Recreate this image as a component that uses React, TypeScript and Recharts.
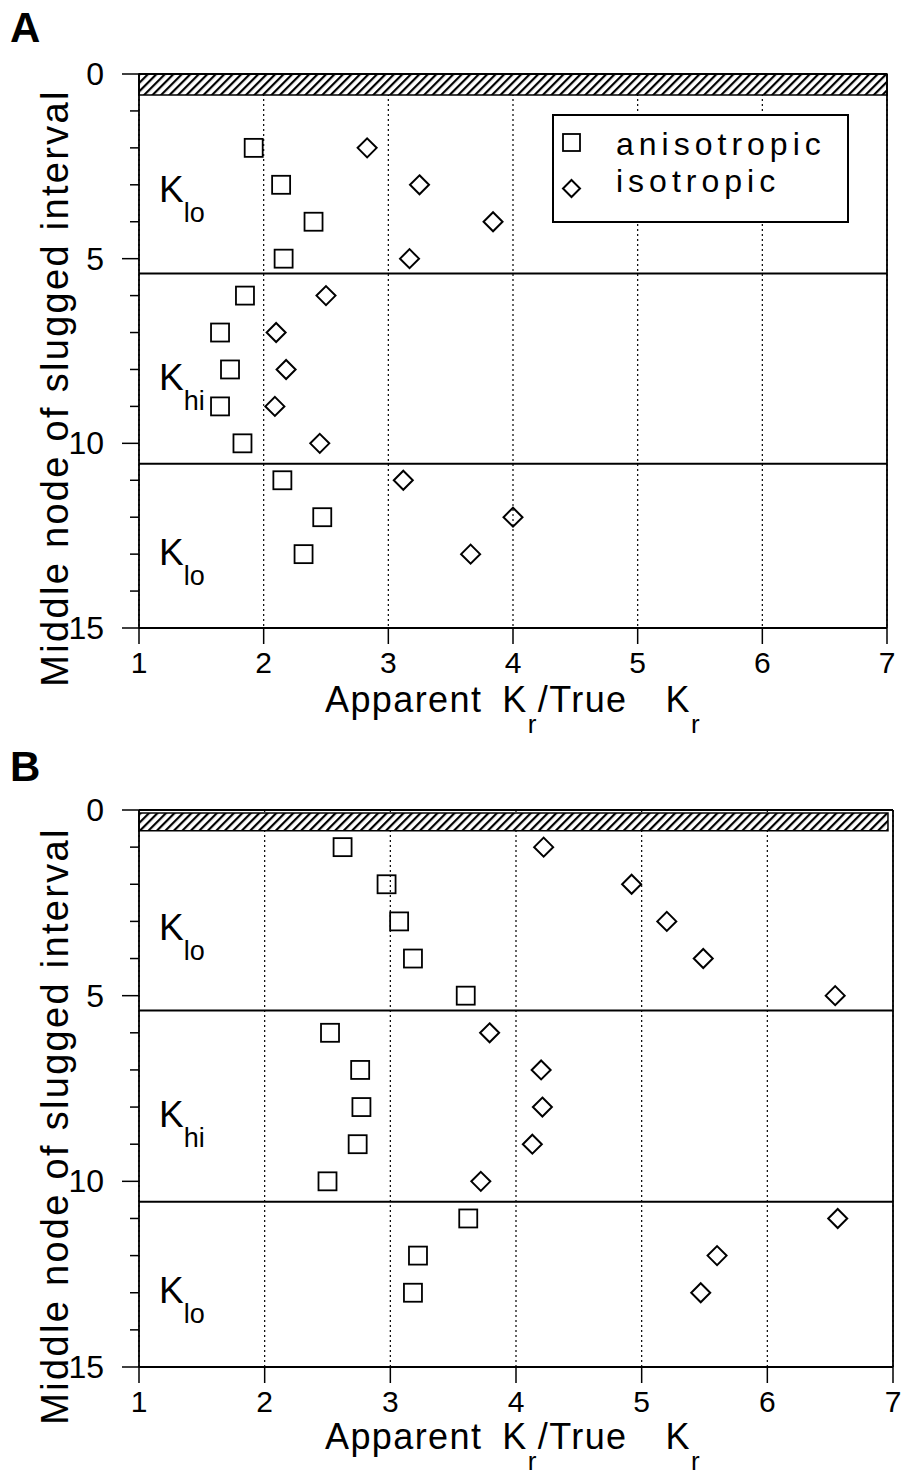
import React from "react";
import {
  ScatterChart,
  Scatter,
  XAxis,
  YAxis,
  CartesianGrid,
  ReferenceLine,
  ReferenceArea,
  Legend,
  Customized,
} from "recharts";

const FONT = '"Liberation Sans", Arial, Helvetica, sans-serif';

const xTicks = [1, 2, 3, 4, 5, 6, 7];
const yTicks = [0, 1, 2, 3, 4, 5, 6, 7, 8, 9, 10, 11, 12, 13, 14, 15];
const yLabelTicks = [0, 5, 10, 15];
const zoneBreaks = [5.4, 10.55];

// panel A
const nodesA = [2, 3, 4, 5, 6, 7, 8, 9, 10, 11, 12, 13];
const anisoA = [1.92, 2.14, 2.4, 2.16, 1.85, 1.65, 1.73, 1.65, 1.83, 2.15, 2.47, 2.32];
const isoA = [2.83, 3.25, 3.84, 3.17, 2.5, 2.1, 2.18, 2.09, 2.45, 3.12, 4.0, 3.66];

// panel B
const nodesB = [1, 2, 3, 4, 5, 6, 7, 8, 9, 10, 11, 12, 13];
const anisoB = [2.62, 2.97, 3.07, 3.18, 3.6, 2.52, 2.76, 2.77, 2.74, 2.5, 3.62, 3.22, 3.18];
const isoB = [4.22, 4.92, 5.2, 5.49, 6.54, 3.79, 4.2, 4.21, 4.13, 3.72, 6.56, 5.6, 5.47];

const toPoints = (xs: number[], nodes: number[]) => xs.map((x, i) => ({ x, y: nodes[i] }));

const Square = (props: any) => {
  const { cx, cy } = props;
  return <rect x={cx - 9} y={cy - 9} width={18} height={18} fill="none" stroke="#000" strokeWidth={1.8} />;
};

const Diamond = (props: any) => {
  const { cx, cy } = props;
  const r = 9.5;
  return (
    <path
      d={`M${cx},${cy - r}L${cx + r},${cy}L${cx},${cy + r}L${cx - r},${cy}Z`}
      fill="none"
      stroke="#000"
      strokeWidth={2}
    />
  );
};

const XTick = (props: any) => {
  const { x, y, payload } = props;
  return (
    <g>
      <line x1={x} y1={y} x2={x} y2={y + 16} stroke="#000" strokeWidth={1.5} />
      <text x={x} y={y + 45} textAnchor="middle" fontSize={30} fontFamily={FONT} fill="#000">
        {payload.value}
      </text>
    </g>
  );
};

const YTick = (props: any) => {
  const { x, y, payload } = props;
  const major = yLabelTicks.includes(payload.value);
  return (
    <g>
      <line x1={x - (major ? 17 : 9)} y1={y} x2={x} y2={y} stroke="#000" strokeWidth={1.5} />
      {major && (
        <text x={x - 35} y={y + 11} textAnchor="end" fontSize={32} fontFamily={FONT} fill="#000">
          {payload.value}
        </text>
      )}
    </g>
  );
};

const LegendBox = () => (
  <div style={{ width: 298, height: 110 }}>
    <svg width={298} height={110}>
      <rect x={1} y={1} width={295} height={107} fill="#fff" stroke="#000" strokeWidth={2} />
      <rect x={11} y={20} width={17} height={17} fill="none" stroke="#000" strokeWidth={1.8} />
      <text x={64} y={41} fontSize={32} letterSpacing={5} fontFamily={FONT} fill="#000">
        anisotropic
      </text>
      <path d="M19.5,66L28,74.5L19.5,83L11,74.5Z" fill="none" stroke="#000" strokeWidth={2} />
      <text x={64} y={78} fontSize={32} letterSpacing={5} fontFamily={FONT} fill="#000">
        isotropic
      </text>
    </svg>
  </div>
);

type PanelProps = {
  letter: string;
  top: number;
  height: number;
  margin: { top: number; right: number; left: number; bottom: number };
  xAxisHeight: number;
  aniso: { x: number; y: number }[];
  iso: { x: number; y: number }[];
  hatch: [number, number, number];
  kY: number[];
  letterY: number;
  yTitleY: number;
  xTitleY: number;
  legend?: boolean;
};

function Panel(p: PanelProps) {
  const texts = () => (
    <g fontFamily={FONT} fill="#000">
      <text x={10} y={p.letterY} fontSize={42} fontWeight="bold">
        {p.letter}
      </text>
      <text
        x={68}
        y={p.yTitleY}
        fontSize={38}
        letterSpacing={2.3}
        textAnchor="middle"
        transform={`rotate(-90, 68, ${p.yTitleY})`}
      >
        Middle node of slugged interval
      </text>
      <text x={325} y={p.xTitleY} fontSize={36} letterSpacing={1.4}>
        Apparent
        <tspan dx={20}>K</tspan>
        <tspan dy={21} fontSize={26}>r</tspan>
        <tspan dy={-21} fontSize={36}>/True</tspan>
        <tspan dx={38}>K</tspan>
        <tspan dy={21} fontSize={26}>r</tspan>
      </text>
      {["lo", "hi", "lo"].map((sub, i) => (
        <text key={i} x={159} y={p.kY[i]} fontSize={37}>
          K
          <tspan dx={0} dy={20} fontSize={27}>
            {sub}
          </tspan>
        </text>
      ))}
    </g>
  );

  return (
    <div style={{ position: "absolute", left: 0, top: p.top }}>
      <ScatterChart width={904} height={p.height} margin={p.margin}>
        <CartesianGrid horizontal={false} stroke="#000" strokeDasharray="2 3" strokeWidth={1.2} />
        <XAxis
          type="number"
          dataKey="x"
          domain={[1, 7]}
          ticks={xTicks}
          interval={0}
          height={p.xAxisHeight}
          tickSize={0}
          tickMargin={0}
          tick={<XTick />}
          axisLine={{ stroke: "#000", strokeWidth: 2.2 }}
          allowDataOverflow
        />
        <YAxis
          type="number"
          dataKey="y"
          domain={[0, 15]}
          reversed
          ticks={yTicks}
          interval={0}
          width={139}
          tickSize={0}
          tickMargin={0}
          tick={<YTick />}
          axisLine={{ stroke: "#000", strokeWidth: 1.8 }}
          allowDataOverflow
        />
        <ReferenceArea
          x1={1}
          x2={p.hatch[2]}
          y1={p.hatch[0]}
          y2={p.hatch[1]}
          fill="url(#hatch)"
          fillOpacity={1}
          stroke="#000"
          strokeWidth={1.5}
          ifOverflow="visible"
        />
        <ReferenceLine y={0} stroke="#000" strokeWidth={2.2} ifOverflow="visible" />
        {zoneBreaks.map((b) => (
          <ReferenceLine key={b} y={b} stroke="#000" strokeWidth={2} />
        ))}
        <ReferenceLine x={7} stroke="#000" strokeWidth={1.8} ifOverflow="visible" />
        <Scatter name="anisotropic" data={p.aniso} shape={Square} isAnimationActive={false} />
        <Scatter name="isotropic" data={p.iso} shape={Diamond} isAnimationActive={false} />
        {p.legend && (
          <Legend
            layout="vertical"
            align="center"
            verticalAlign="middle"
            content={() => <LegendBox />}
            wrapperStyle={{ left: 552, top: 114, width: 298, height: 110 }}
          />
        )}
        <Customized component={texts} />
      </ScatterChart>
    </div>
  );
}

export default function App() {
  return (
    <div style={{ position: "absolute", left: 0, top: 0, width: 904, height: 1477, background: "#fff" }}>
      <svg width={0} height={0} style={{ position: "absolute" }}>
        <defs>
          <pattern id="hatch" width={6} height={6} patternUnits="userSpaceOnUse" patternTransform="rotate(45)">
            <rect width={6} height={6} fill="#fff" />
            <line x1={1} y1={0} x2={1} y2={6} stroke="#000" strokeWidth={2.4} />
          </pattern>
        </defs>
      </svg>
      <Panel
        letter="A"
        top={0}
        height={740}
        margin={{ top: 74, right: 17, left: 0, bottom: 0 }}
        xAxisHeight={112}
        aniso={toPoints(anisoA, nodesA)}
        iso={toPoints(isoA, nodesA)}
        hatch={[0, 0.57, 7]}
        kY={[202, 390, 565]}
        letterY={42}
        yTitleY={388}
        xTitleY={712}
        legend
      />
      <Panel
        letter="B"
        top={740}
        height={737}
        margin={{ top: 70, right: 11, left: 0, bottom: 0 }}
        xAxisHeight={110}
        aniso={toPoints(anisoB, nodesB)}
        iso={toPoints(isoB, nodesB)}
        hatch={[0.08, 0.56, 6.96]}
        kY={[200, 387, 563]}
        letterY={41}
        yTitleY={386}
        xTitleY={709}
      />
    </div>
  );
}
